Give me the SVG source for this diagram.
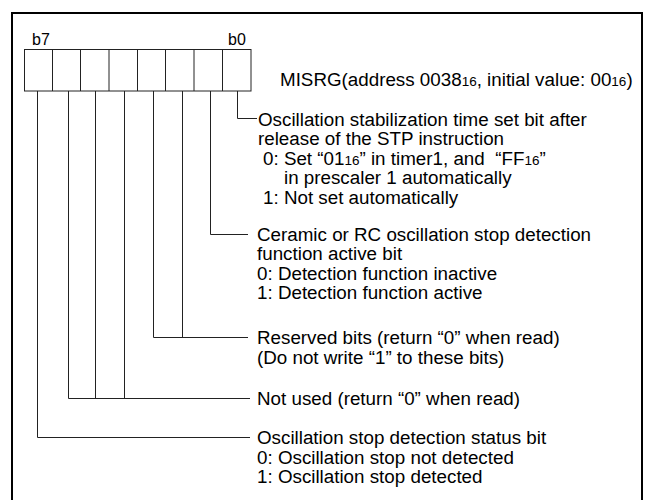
<svg xmlns="http://www.w3.org/2000/svg" width="645" height="500" viewBox="0 0 645 500">
<style>
.t{font-family:"Liberation Sans",Arial,sans-serif;font-size:18.8px;fill:#000}
.s{font-size:13.5px}
.b{font-family:"Liberation Sans",Arial,sans-serif;font-size:16px;fill:#000}
.ln{fill:none;stroke:#222;stroke-width:1}
.cell{fill:#fff;stroke:#222;stroke-width:1}
</style>
<rect x="12" y="13" width="630" height="500" fill="none" stroke="#000" stroke-width="2"/>
<g id="register">
<rect class="cell" x="24.5" y="49.5" width="226.5" height="41.5"/>
<path class="ln" d="M52.5 49.5V91M80.5 49.5V91M109 49.5V91M137.5 49.5V91M165.5 49.5V91M194 49.5V91M222.5 49.5V91"/>
<text class="b" x="32" y="45">b7</text>
<text class="b" x="228" y="45">b0</text>
<text class="t" x="280" y="86">MISRG(address 0038<tspan class="s">16</tspan>, initial value: 00<tspan class="s">16</tspan>)</text>
</g>
<g id="connectors">
<path class="ln" d="M237.5 91V118.5H257"/>
<path class="ln" d="M210.5 91V234.5H248"/>
<path class="ln" d="M182.5 91V337.5M153.5 91V337.5H248"/>
<path class="ln" d="M124.5 91V398.5M95.5 91V398.5M68.5 91V398.5H250"/>
<path class="ln" d="M37.5 91V437.5H250"/>
</g>
<g id="bit0">
<text class="t" x="258" y="125.5">Oscillation stabilization time set bit after</text>
<text class="t" x="258" y="145">release of the STP instruction</text>
<text class="t" x="263" y="164.5">0: Set “01<tspan class="s">16</tspan>” in timer1, and&#160; “FF<tspan class="s">16</tspan>”</text>
<text class="t" x="284" y="184">in prescaler 1 automatically</text>
<text class="t" x="263" y="203.5">1: Not set automatically</text>
</g>
<g id="bit1">
<text class="t" x="257" y="240.5">Ceramic or RC oscillation stop detection</text>
<text class="t" x="257" y="260">function active bit</text>
<text class="t" x="257" y="279.5">0: Detection function inactive</text>
<text class="t" x="257" y="299">1: Detection function active</text>
</g>
<g id="bits2-3">
<text class="t" x="257" y="344">Reserved bits (return “0” when read)</text>
<text class="t" x="257" y="363.5">(Do not write “1” to these bits)</text>
</g>
<g id="bits4-6">
<text class="t" x="257" y="405">Not used (return “0” when read)</text>
</g>
<g id="bit7">
<text class="t" x="257" y="444">Oscillation stop detection status bit</text>
<text class="t" x="257" y="463.5">0: Oscillation stop not detected</text>
<text class="t" x="257" y="483">1: Oscillation stop detected</text>
</g>
</svg>
